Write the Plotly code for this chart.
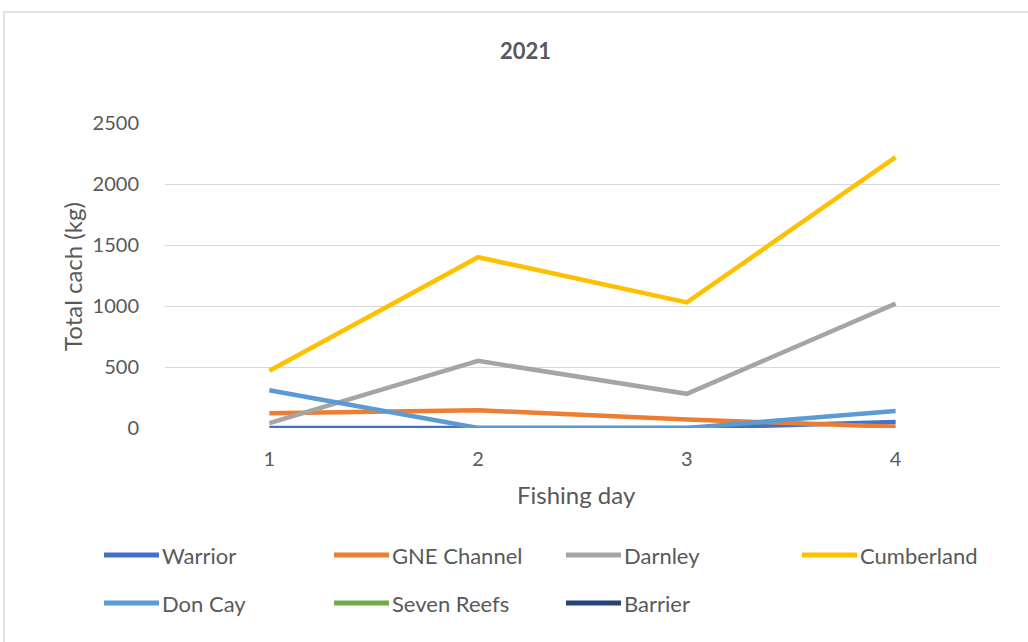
import plotly.graph_objects as go

days = ["1", "2", "3", "4"]
series_names = ["Warrior", "GNE Channel", "Darnley", "Cumberland", "Don Cay", "Seven Reefs", "Barrier"]
warrior = [0, 0, 0, 50]
gne_channel = [120, 145, 70, 10]
darnley = [40, 550, 280, 1020]
cumberland = [470, 1400, 1030, 2220]
don_cay = [310, 0, 0, 140]
seven_reefs = [None, None, None, None]
barrier = [None, None, None, None]
colors = ["#4472C4", "#ED7D31", "#A5A5A5", "#FFC000", "#5B9BD5", "#70AD47", "#264478"]
y_ticks = [0, 500, 1000, 1500, 2000, 2500]

values = [warrior, gne_channel, darnley, cumberland, don_cay, seven_reefs, barrier]

W, H = 1028, 642
ml, mr, mt, mb = 165, 28, 123, 214
pw = W - ml - mr
ph = H - mt - mb
FONT = "Lato, 'Open Sans', sans-serif"
TXT = "#595959"


def px(x):
    return (x - ml) / pw


def py(y):
    return (H - mb - y) / ph


# legend placement (left x of line sample, center y of row) per series
leg_pos = [(104, 555), (334, 555), (566, 555), (802, 555),
           (104, 603), (334, 603), (566, 603)]
LEG_LINE = 55

fig = go.Figure()
for name, vals, col in zip(series_names, values, colors):
    fig.add_trace(go.Scatter(
        x=days, y=vals, name=name, mode="lines",
        line=dict(color=col, width=4.5),
        showlegend=False, hoverinfo="skip"))

shapes = []
annotations = []
for (lx, ly), name, col in zip(leg_pos, series_names, colors):
    shapes.append(dict(type="line", xref="paper", yref="paper",
                       x0=px(lx), x1=px(lx + LEG_LINE), y0=py(ly), y1=py(ly),
                       line=dict(color=col, width=5)))
    annotations.append(dict(text=name, xref="paper", yref="paper",
                            x=px(lx + LEG_LINE + 1), y=py(ly), xanchor="left", yanchor="middle",
                            showarrow=False, font=dict(family=FONT, size=22, color=TXT)))

# axis titles and chart title
annotations.append(dict(text="Total cach (kg)", xref="paper", yref="paper",
                        x=px(72), y=py(277), xanchor="center", yanchor="middle", textangle=-90,
                        showarrow=False, font=dict(family=FONT, size=24, color=TXT)))
annotations.append(dict(text="Fishing day", xref="paper", yref="paper",
                        x=px(576), y=py(494), xanchor="center", yanchor="middle",
                        showarrow=False, font=dict(family=FONT, size=24, color=TXT)))
annotations.append(dict(text="<b>2021</b>", xref="paper", yref="paper",
                        x=px(525), y=py(50), xanchor="center", yanchor="middle",
                        showarrow=False, font=dict(family=FONT, size=22, color=TXT)))

# chart border
shapes.append(dict(type="rect", xref="paper", yref="paper",
                   x0=px(4), x1=px(1040), y0=py(650), y1=py(12),
                   line=dict(color="#D9D9D9", width=1.5), fillcolor="rgba(0,0,0,0)", layer="below"))

fig.update_layout(
    width=W, height=H,
    margin=dict(l=ml, r=mr, t=mt, b=mb, autoexpand=False),
    paper_bgcolor="white", plot_bgcolor="white",
    showlegend=False,
    xaxis=dict(type="category", range=[-0.5, 3.5], showgrid=False, showline=False,
               ticks="", zeroline=False,
               tickfont=dict(family=FONT, size=20, color=TXT), ticklabelstandoff=17),
    yaxis=dict(range=[0, 2500], tickvals=y_ticks, showgrid=True, gridcolor="#D9D9D9", gridwidth=1,
               zeroline=False, showline=False, ticks="",
               tickfont=dict(family=FONT, size=20, color=TXT), ticklabelstandoff=25),
    shapes=shapes,
    annotations=annotations,
)

fig.write_html("out.html", config={"displayModeBar": False},
               post_script="document.body.style.margin='0px';")
